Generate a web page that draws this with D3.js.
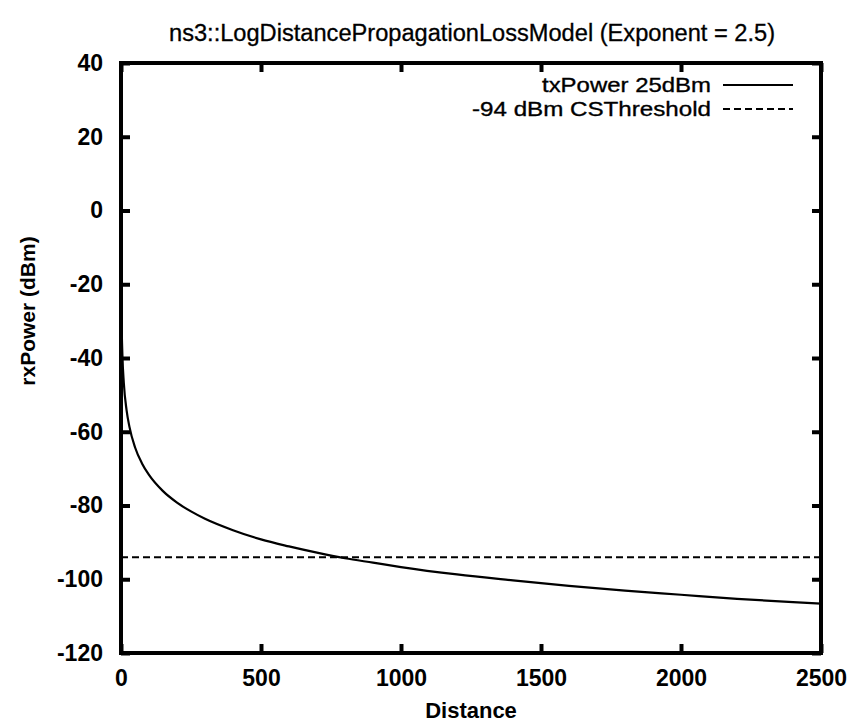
<!DOCTYPE html>
<html><head><meta charset="utf-8">
<script src="https://cdn.jsdelivr.net/npm/d3@7"></script>
<style>
body{margin:0;background:#fff;}
svg{display:block;font-family:"Liberation Sans",Arial,sans-serif;}
</style></head>
<body><svg id="c" width="854" height="723"></svg>
<script>
const title = "ns3::LogDistancePropagationLossModel (Exponent = 2.5)";
const xLabel = "Distance";
const yLabel = "rxPower (dBm)";
const seriesNames = ["txPower 25dBm", "-94 dBm CSThreshold"];
const xTicks = [0, 500, 1000, 1500, 2000, 2500];
const yTicks = [40, 20, 0, -20, -40, -60, -80, -100, -120];
const distance = [1, 2, 5, 10, 20, 30, 50, 75, 100, 150, 200, 250, 300, 400, 500, 600, 700, 800, 900, 1000, 1200, 1400, 1600, 1800, 2000, 2200, 2400, 2500];
const rxPower = [-21.7, -29.2, -39.2, -46.7, -54.2, -58.6, -64.2, -68.6, -71.7, -76.1, -79.2, -81.6, -83.6, -86.7, -89.2, -91.1, -92.8, -94.3, -95.5, -96.7, -98.7, -100.3, -101.8, -103.1, -104.2, -105.3, -106.2, -106.6];
const threshold = -94;

const svg = d3.select("#c");
const L = 121, R = 821, T = 63, B = 653;
const x = d3.scaleLinear().domain([0, 2500]).range([L, R]);
const y = d3.scaleLinear().domain([-120, 40]).range([B, T]);

svg.append("clipPath").attr("id","clip").append("rect")
  .attr("x", L).attr("y", T).attr("width", R-L).attr("height", B-T);

const g = svg.append("g").attr("clip-path","url(#clip)");
const data = distance.map((d,i)=>[d, rxPower[i]]);
g.append("path").datum(data)
  .attr("fill","none").attr("stroke","#000").attr("stroke-width",2.2)
  .attr("d", d3.line().x(d=>x(d[0])).y(d=>y(d[1])).curve(d3.curveMonotoneX));
g.append("line").attr("x1",x(0)).attr("x2",x(2500)).attr("y1",y(threshold)).attr("y2",y(threshold))
  .attr("stroke","#000").attr("stroke-width",2).attr("stroke-dasharray","7,4");

const fmt = d => String(d);
const tl = 9;
const axB = svg.append("g").attr("transform",`translate(0,${B})`)
  .call(d3.axisBottom(x).tickValues(xTicks).tickSize(-tl).tickPadding(17).tickFormat(fmt));
const axT = svg.append("g").attr("transform",`translate(0,${T})`)
  .call(d3.axisTop(x).tickValues(xTicks).tickSize(-tl).tickFormat(""));
const axL = svg.append("g").attr("transform",`translate(${L},0)`)
  .call(d3.axisLeft(y).tickValues(yTicks).tickSize(-tl).tickPadding(18).tickFormat(fmt));
const axR = svg.append("g").attr("transform",`translate(${R},0)`)
  .call(d3.axisRight(y).tickValues(yTicks).tickSize(-tl).tickFormat(""));
[axB,axT,axL,axR].forEach(a=>{
  a.select(".domain").remove();
  a.selectAll(".tick line").attr("stroke","#000").attr("stroke-width",4);
  a.selectAll("text").attr("fill","#000").attr("font-size",23).attr("font-weight","bold")
   .attr("font-family","\"Liberation Sans\",Arial,sans-serif");
});
svg.append("rect").attr("x",L).attr("y",T).attr("width",R-L).attr("height",B-T)
  .attr("fill","none").attr("stroke","#000").attr("stroke-width",4);

svg.append("text").attr("x",472).attr("y",41).attr("text-anchor","middle")
  .attr("font-size",23).attr("textLength",606).attr("lengthAdjust","spacingAndGlyphs")
  .attr("stroke","#000").attr("stroke-width",0.3).text(title);
svg.append("text").attr("x",471).attr("y",718).attr("text-anchor","middle")
  .attr("font-size",22).attr("font-weight","bold").text(xLabel);
svg.append("text").attr("transform","translate(35,311) rotate(-90)").attr("text-anchor","middle")
  .attr("font-size",21).attr("font-weight","bold").text(yLabel);

const leg = svg.append("g");
const ly = [85, 109];
const legW = [169, 239];
seriesNames.forEach((n,i)=>{
  leg.append("text").attr("x",711).attr("y",ly[i]).attr("dy","0.35em").attr("text-anchor","end")
    .attr("font-size",21).attr("textLength",legW[i]).attr("lengthAdjust","spacingAndGlyphs")
    .attr("stroke","#000").attr("stroke-width",0.35).text(n);
  leg.append("line").attr("x1",723).attr("x2",793).attr("y1",ly[i]).attr("y2",ly[i])
    .attr("stroke","#000").attr("stroke-width",2).attr("stroke-dasharray", i==1?"7,4":null);
});
</script></body></html>
